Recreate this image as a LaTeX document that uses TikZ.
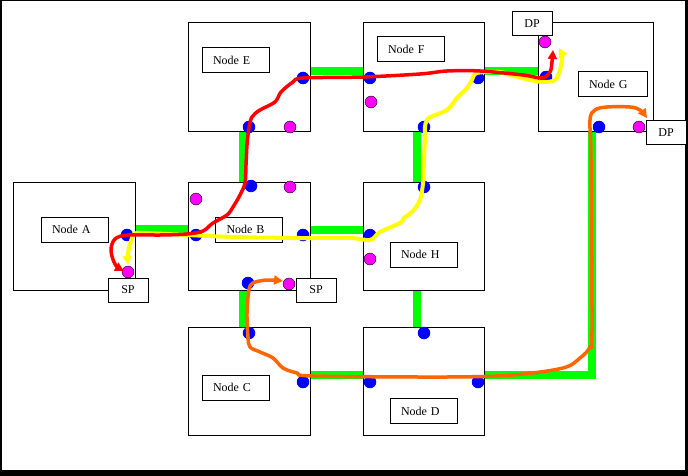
\documentclass[tikz,border=0pt]{standalone}
\usepackage{fontspec}
\setmainfont{Liberation Serif}
\usetikzlibrary{arrows.meta}
\definecolor{barg}{RGB}{0,255,0}
\definecolor{dotb}{RGB}{0,0,255}
\definecolor{dotm}{RGB}{255,0,255}
\definecolor{pred}{RGB}{255,0,0}
\definecolor{pyel}{RGB}{255,255,0}
\definecolor{pora}{RGB}{255,102,0}
\tikzset{
  bigbox/.style={draw=black, line width=1pt, inner sep=0pt},
  labbox/.style={draw=black, fill=white, line width=1pt, inner ysep=0pt, inner xsep=11pt,
    minimum height=25pt, text width=45pt, align=left, font=\fontsize{12pt}{14pt}\selectfont},
  ptbox/.style={draw=black, fill=white, line width=1pt, inner sep=0pt,
    minimum width=40pt, minimum height=24pt, font=\fontsize{12pt}{14pt}\selectfont},
  gbar/.style={draw=barg, line width=8pt},
  bdot/.style={circle, fill=dotb, inner sep=0pt, minimum size=12.5pt},
  mdot/.style={circle, fill=dotm, draw=black, line width=0.4pt, inner sep=0pt, minimum size=12pt},
  route/.style={line width=3.5pt, line cap=round, line join=round,
    {Triangle[length=9pt,width=9pt]}-{Triangle[length=9pt,width=9pt]}},
}
\begin{document}
\begin{tikzpicture}[x=1pt,y=-1pt]
% frame
\fill[black] (0,0) rectangle (688,476);
\fill[white] (2,1) rectangle (685,470);
\useasboundingbox (0,0) rectangle (688,476);
% main boxes
\node[bigbox, minimum width=122pt, minimum height=108pt] (A) at (74,236) {};
\node[bigbox, minimum width=122pt, minimum height=108pt] (B) at (249,236) {};
\node[bigbox, minimum width=122pt, minimum height=109pt] (E) at (249,77.5) {};
\node[bigbox, minimum width=121pt, minimum height=109pt] (F) at (423.5,77.5) {};
\node[bigbox, minimum width=115pt, minimum height=109pt] (G) at (595.5,77.5) {};
\node[bigbox, minimum width=121pt, minimum height=108pt] (H) at (423.5,236) {};
\node[bigbox, minimum width=122pt, minimum height=108pt] (C) at (249,381) {};
\node[bigbox, minimum width=121pt, minimum height=108pt] (D) at (423.5,381) {};
% green links
\draw[gbar] ([yshift=7.5pt]A.east) -- ([yshift=7.5pt]B.west);
\draw[gbar] ([yshift=6.5pt]B.east) -- ([yshift=6.5pt]H.west);
\draw[gbar] ([yshift=6pt]E.east) -- ([yshift=6pt]F.west);
\draw[gbar] ([yshift=6pt]F.east) -- ([yshift=6pt]G.west);
\draw[gbar] ([xshift=-6pt]E.south) -- ([xshift=-6pt]B.north);
\draw[gbar] ([xshift=-6.5pt]F.south) -- ([xshift=-6.5pt]H.north);
\draw[gbar] ([xshift=-6pt]B.south) -- ([xshift=-6pt]C.north);
\draw[gbar] ([xshift=-6.5pt]H.south) -- ([xshift=-6.5pt]D.north);
\draw[gbar] ([yshift=6.5pt]C.east) -- ([yshift=6.5pt]D.west);
\draw[gbar, line join=miter] ([yshift=6.5pt]D.east) -| ([xshift=-3.5pt]G.south);
% label boxes
\node[labbox] (lA) at (74.5,229.5) {Node A};
\node[labbox] (lB) at (249,229.5) {Node B};
\node[labbox] (lE) at (235.5,60) {Node E};
\node[labbox] (lF) at (410.5,49) {Node F};
\node[labbox, text width=47pt] (lG) at (612.5,84.5) {Node G};
\node[labbox] (lH) at (423.5,254.5) {Node H};
\node[labbox] (lC) at (235.5,387.5) {Node C};
\node[labbox] (lD) at (423.5,411) {Node D};
% SP / DP boxes
\node[ptbox] (spA) at (128,290) {SP};
\node[ptbox] (spB) at (316,290) {SP};
\node[ptbox] (dpG) at (532,24) {DP};
\node[ptbox] (dpR) at (666,132.5) {DP};
% blue ports
\foreach \n/\x/\y in {aR/127/235, bL/196/235, bR/303/235, bT/251/186, bB/248/283,
  eB/249/127, eR/303/78, fL/370/78, fB/424/127, fR/478/78, gL/546/77, gB/599/127,
  hL/370/235, hT/424/187, cT/249/333, cR/303/382, dL/370/382, dT/424/333, dR/478/382}
  \node[bdot] (\n) at (\x,\y) {};
% magenta ports
\foreach \n/\x/\y in {aS/128/272, bM1/196/199, bM2/290/187, bS/289/284, eM/290/127,
  fM/371/102, gD/545/42, gD2/639/127, hM/370/259}
  \node[mdot] (\n) at (\x,\y) {};
% routes
\draw[route, pyel, line width=4pt] plot[smooth, tension=0.55] coordinates {(128,265) (128,253) (132,238) (137,233) (167,234) (233,237) (300,238) (350,238) (370,240) (380,232) (400,223) (404,218) (412,212) (420,200) (423,183) (424,160) (425,140) (427,120) (447,110) (457,98) (467,88) (472,80) (477,73) (500,72) (510,75) (530,80) (543,82) (555,80) (560,70) (562,57) (559,48)};
\draw[route, pred] plot[smooth, tension=0.55] coordinates {(124,271) (115,264) (111,250) (115,239) (128,235) (160,235) (187,234) (203,231) (213,223) (227,215) (233,207) (240,195) (245,183) (246,165) (247,145) (249,128) (252,117) (260,110) (275,102) (281,92) (293,82) (303,78) (363,77) (420,74) (447,71) (480,71) (523,75) (542,78) (550,72) (552,62) (553,50)};
\draw[route, pora] plot[smooth, tension=0.55] coordinates {(283,281) (267,280) (253,283) (249,290) (247,313) (248,337) (250,347) (260,352) (273,358) (283,368) (297,373) (313,376) (447,377) (513,375) (563,368) (580,358) (590,347) (592,330) (591,160) (590,120) (595,110) (607,107) (630,107) (640,110) (647,118)};
\end{tikzpicture}
\end{document}
